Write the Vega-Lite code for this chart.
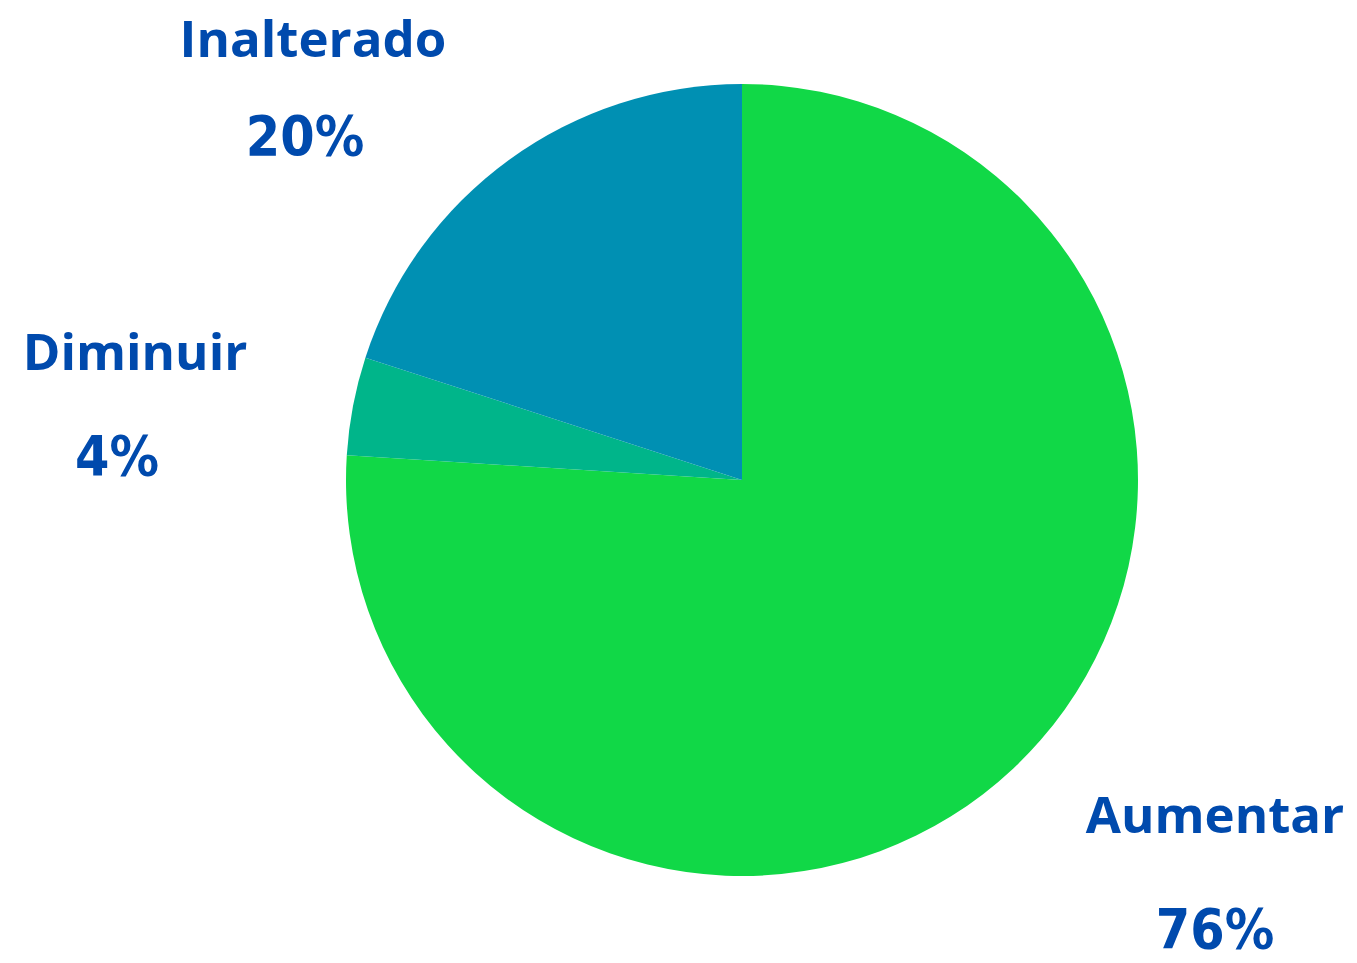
{
  "$schema": "https://vega.github.io/schema/vega-lite/v6.json",
  "width": 1230,
  "height": 960,
  "autosize": "none",
  "padding": {"left": 127, "top": 0, "right": 0, "bottom": 3},
  "background": "white",
  "config": {"view": {"stroke": null}},
  "data": {"values": [
    {"category": "Aumentar", "value": 76, "label": "76%", "ord": 1},
    {"category": "Diminuir", "value": 4, "label": "4%", "ord": 2},
    {"category": "Inalterado", "value": 20, "label": "20%", "ord": 3}
  ]},
  "layer": [
    {
      "mark": {"type": "arc", "radius": 396, "stroke": null},
      "encoding": {
        "theta": {"field": "value", "type": "quantitative", "stack": true},
        "order": {"field": "ord", "type": "quantitative"},
        "color": {"field": "category", "type": "nominal", "legend": null,
          "scale": {"domain": ["Aumentar", "Diminuir", "Inalterado"], "range": ["#11D847", "#00B58A", "#0090B3"]}}
      }
    },
    {
      "transform": [{"filter": "datum.category == 'Inalterado'"}],
      "mark": {"type": "text", "font": "Open Sans", "fontWeight": "bold", "fontSize": 51, "fill": "#004AAD", "align": "center", "baseline": "alphabetic", "dx": -429, "dy": -423},
      "encoding": {"text": {"field": "category"}}
    },
    {
      "transform": [{"filter": "datum.category == 'Inalterado'"}],
      "mark": {"type": "text", "font": "DejaVu Sans Condensed", "fontWeight": "bold", "fontSize": 55, "fill": "#004AAD", "align": "center", "baseline": "alphabetic", "dx": -437, "dy": -325},
      "encoding": {"text": {"field": "label"}}
    },
    {
      "transform": [{"filter": "datum.category == 'Diminuir'"}],
      "mark": {"type": "text", "font": "Open Sans", "fontWeight": "bold", "fontSize": 51, "fill": "#004AAD", "align": "center", "baseline": "alphabetic", "dx": -607, "dy": -110},
      "encoding": {"text": {"field": "category"}}
    },
    {
      "transform": [{"filter": "datum.category == 'Diminuir'"}],
      "mark": {"type": "text", "font": "DejaVu Sans Condensed", "fontWeight": "bold", "fontSize": 55, "fill": "#004AAD", "align": "center", "baseline": "alphabetic", "dx": -625, "dy": -5},
      "encoding": {"text": {"field": "label"}}
    },
    {
      "transform": [{"filter": "datum.category == 'Aumentar'"}],
      "mark": {"type": "text", "font": "Open Sans", "fontWeight": "bold", "fontSize": 51, "fill": "#004AAD", "align": "center", "baseline": "alphabetic", "dx": 473, "dy": 353},
      "encoding": {"text": {"field": "category"}}
    },
    {
      "transform": [{"filter": "datum.category == 'Aumentar'"}],
      "mark": {"type": "text", "font": "DejaVu Sans Condensed", "fontWeight": "bold", "fontSize": 55, "fill": "#004AAD", "align": "center", "baseline": "alphabetic", "dx": 473, "dy": 468},
      "encoding": {"text": {"field": "label"}}
    }
  ]
}
